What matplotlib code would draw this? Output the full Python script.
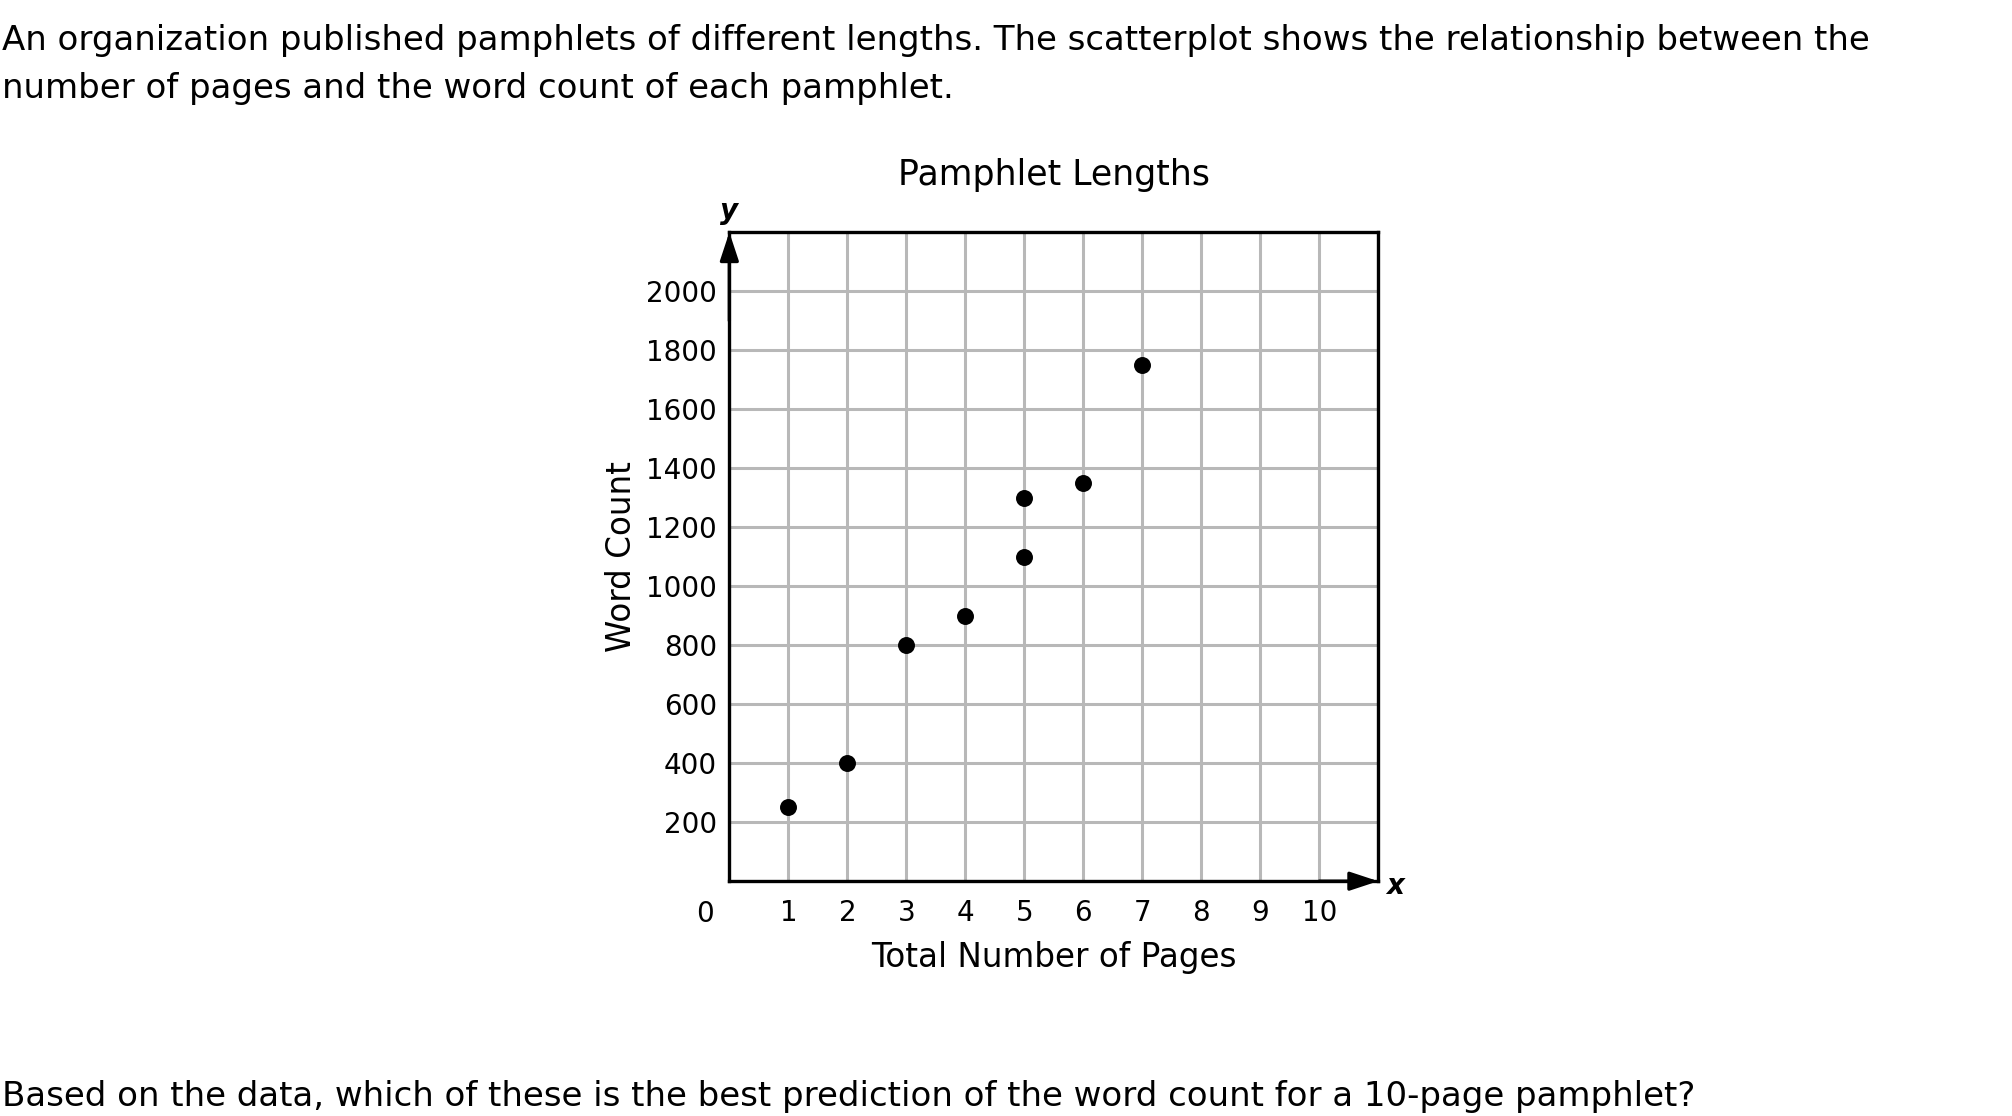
import matplotlib.pyplot as plt

pages = [1, 2, 3, 4, 5, 5, 6, 7]
word_count = [250, 400, 800, 900, 1100, 1300, 1350, 1750]

x_ticks = list(range(1, 11))
y_ticks = list(range(200, 2001, 200))

intro_lines = [
    "An organization published pamphlets of different lengths. The scatterplot shows the relationship between the",
    "number of pages and the word count of each pamphlet.",
]
question = "Based on the data, which of these is the best prediction of the word count for a 10-page pamphlet?"

plt.rcParams["font.family"] = ["DejaVu Sans"]

fig = plt.figure(figsize=(20.12, 11.16), dpi=100)
ax = fig.add_axes([0.3625, 0.2104, 0.3225, 0.5815])

ax.scatter(pages, word_count, s=125, color="black", zorder=4)

ax.set_xlim(0, 11)
ax.set_ylim(0, 2200)
ax.set_xticks(x_ticks)
ax.set_yticks(y_ticks)
ax.tick_params(length=0, labelsize=20, colors="black")
ax.tick_params(axis="x", pad=13)
ax.tick_params(axis="y", pad=9)

# full grid, including the lines that don't carry a label
ax.set_xticks(range(0, 12), minor=True)
ax.set_yticks(range(0, 2201, 200), minor=True)
ax.tick_params(which="minor", length=0)
ax.grid(True, which="both", color="#b8b8b8", linewidth=2.2, zorder=0)
ax.set_axisbelow(True)

for side in ["left", "right", "top", "bottom"]:
    ax.spines[side].set_linewidth(2.4)
    ax.spines[side].set_color("black")

# axis arrows
arrow = dict(arrowstyle="-|>,head_length=1.15,head_width=0.38", color="black",
             lw=2.4, mutation_scale=15, shrinkA=0, shrinkB=0)
ax.annotate("", xy=(0, 2200), xytext=(0, 1900), arrowprops=arrow, annotation_clip=False, zorder=5)
ax.annotate("", xy=(11, 0), xytext=(10, 0), arrowprops=arrow, annotation_clip=False, zorder=5)

ax.text(0.0, 1.032, "y", transform=ax.transAxes, fontsize=20, fontweight="bold",
        fontstyle="italic", ha="center", va="center")
ax.text(1.026, -0.008, "x", transform=ax.transAxes, fontsize=20, fontweight="bold",
        fontstyle="italic", ha="center", va="center")
ax.text(-0.038, -0.051, "0", transform=ax.transAxes, fontsize=20, ha="center", va="center")

ax.set_title("Pamphlet Lengths", fontsize=25, y=1.075, va="center")
ax.set_xlabel("Total Number of Pages", fontsize=23.5)
ax.xaxis.set_label_coords(0.5, -0.117)
ax.xaxis.label.set_va("center")
ax.set_ylabel("Word Count", fontsize=23.5)
ax.yaxis.set_label_coords(-0.166, 0.5)
ax.yaxis.label.set_va("center")

fig.text(0.001, 0.964, intro_lines[0], fontsize=24.5, ha="left", va="center")
fig.text(0.001, 0.921, intro_lines[1], fontsize=24.5, ha="left", va="center")
fig.text(0.001, 0.0173, question, fontsize=24.5, ha="left", va="center")

fig.savefig("out.png", dpi=100, facecolor="white")
